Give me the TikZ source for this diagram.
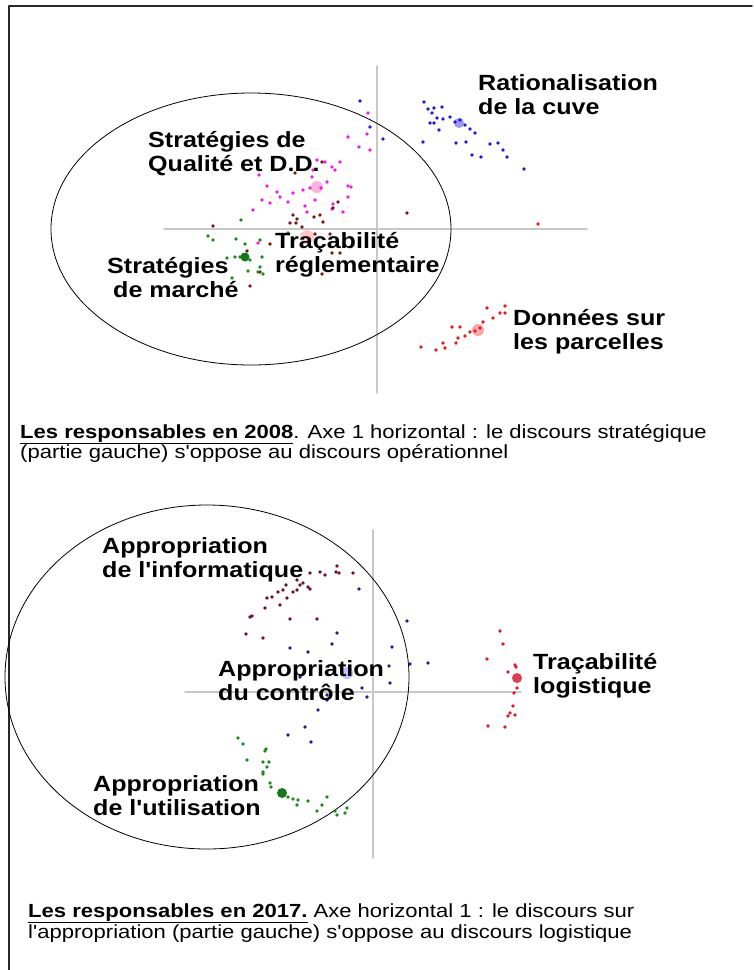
\documentclass[tikz,border=0pt]{standalone}
\usepackage{fontspec}
\setmainfont{Liberation Sans}
\newfontfamily\lblfont[FakeStretch=1.14]{Liberation Sans}
\newfontfamily\legfont[FakeStretch=1.16]{Liberation Sans}
\definecolor{axegris}{RGB}{200,200,200}
\definecolor{cadre}{RGB}{40,40,40}
\definecolor{ptbleu}{RGB}{25,25,225}
\definecolor{ptmagenta}{RGB}{240,25,240}
\definecolor{ptbrun}{RGB}{125,20,20}
\definecolor{ptvert}{RGB}{25,140,25}
\definecolor{ptrouge}{RGB}{230,25,25}
\definecolor{ptbrunb}{RGB}{110,15,35}
\definecolor{ptbleub}{RGB}{35,25,150}
\definecolor{ptrougeb}{RGB}{220,25,45}
\tikzset{
  axe/.style={draw=axegris, line width=1.6pt},
  zone/.style={draw=black, line width=0.8pt},
  lbl/.style={inner sep=0pt, anchor=base west, font=\lblfont\bfseries\fontsize{22}{24}\selectfont},
  legende/.style={inner sep=0pt, anchor=base west, font=\legfont\fontsize{19}{20}\selectfont},
}
\newcommand\nuage[2]{\foreach \p in {#2} \fill[#1] \p circle (1.9pt);}
\begin{document}
\begin{tikzpicture}[x=1pt, y=-1pt, line join=round, line cap=round]
	\useasboundingbox (0,0) rectangle (753,970);
	% cadre
	\draw[cadre, line width=1.4pt] (9,970) -- (9,6) -- (752,6);
	% --- 2008 ---
	\coordinate (N1) at (377,66);
	\coordinate (S1) at (377,393);
	\coordinate (W1) at (164,229);
	\coordinate (E1) at (587,229);
	\draw[axe] (N1)--(S1) (W1)--(E1);
	\draw[zone] (251,229) ellipse [x radius=200pt, y radius=136pt];
	\fill[blue!40] (459,123) circle (5pt);
	\fill[magenta!30] (317,187) circle (6pt);
	\fill[red!22] (307,237) circle (7pt);
	\fill[red!35] (478,330) circle (6pt);
	\nuage{ptbleu}{(360,101),(370,127),(383,139),(424,102),(428,109),(434,108),(442,107),(432,113),(437,118),(443,119),(450,117),(455,122),(460,120),(465,125),(470,129),(475,133),(430,123),(439,130),(423,142),(456,143),(466,142),(490,144),(498,143),(503,150),(507,157),(472,155),(481,157),(524,169),(434,123)}
	\nuage{ptmagenta}{(368,113),(348,137),(367,134),(359,147),(370,150),(317,160),(325,162),(332,167),(340,162),(335,170),(313,170),(259,175),(312,177),(267,186),(277,192),(280,197),(293,193),(303,190),(310,188),(321,188),(327,182),(348,186),(351,187),(262,200),(270,203),(253,210),(288,202),(305,206),(315,200),(333,204),(348,197),(343,212),(307,212),(332,209),(258,243)}
	\nuage{ptbrun}{(322,162),(295,173),(293,215),(297,219),(290,223),(296,223),(302,227),(314,217),(320,215),(323,222),(333,208),(338,202),(407,213),(213,226),(315,234),(330,234),(332,253),(340,253),(322,274),(250,286),(260,272),(247,251),(270,244)}
	\nuage{ptvert}{(241,220),(208,236),(213,240),(236,239),(245,244),(260,240),(227,258),(235,257),(250,260),(262,257),(248,271),(260,267),(263,274),(258,272),(232,278),(288,233),(240,257),(243,255)}
	\fill[ptvert!85!black] (245,257) circle (4.5pt);
	\nuage{ptrouge}{(538,224),(487,308),(505,306),(500,313),(493,318),(483,322),(480,328),(470,332),(465,336),(458,338),(452,327),(460,327),(456,343),(443,343),(445,348),(436,350),(421,347),(505,313),(475,331)}
	\node[lbl] (rat) at (478,90) {\begin{tabular}[t]{@{}l@{}}Rationalisation\\de la cuve\end{tabular}};
	\node[lbl] (qual) at (148,147) {\begin{tabular}[t]{@{}l@{}}Stratégies de\\Qualité et D.D.\end{tabular}};
	\node[lbl] (tracr) at (275,248) {\begin{tabular}[t]{@{}l@{}}Traçabilité\\réglementaire\end{tabular}};
	\node[lbl] (marche) at (107,273) {\begin{tabular}[t]{@{}l@{}}Stratégies\\\hspace{6pt}de marché\end{tabular}};
	\node[lbl] (parc) at (513,325) {\begin{tabular}[t]{@{}l@{}}Données sur\\les parcelles\end{tabular}};
	\node[legende] (leg1) at (20,438) {\underline{\textbf{Les responsables en 2008}}. Axe 1 horizontal : le discours stratégique};
	\node[legende] (leg1b) at (20,458) {(partie gauche) s'oppose au discours opérationnel};
	% --- 2017 ---
	\coordinate (N2) at (373,530);
	\coordinate (S2) at (373,858);
	\coordinate (W2) at (185,692);
	\coordinate (E2) at (521,692);
	\draw[axe] (N2)--(S2) (W2)--(E2);
	\draw[zone] (207,677) ellipse [x radius=202pt, y radius=172pt];
	\fill[blue!25] (347,673) circle (6pt);
	\nuage{ptbrunb}{(310,573),(320,572),(325,575),(337,566),(336,572),(339,573),(353,573),(297,580),(300,585),(303,583),(308,587),(310,589),(286,585),(283,590),(278,592),(297,590),(293,592),(272,597),(267,598),(287,598),(280,605),(265,608),(250,617),(252,616),(290,619),(317,619),(246,634),(263,638)}
	\nuage{ptbleub}{(359,589),(407,621),(337,633),(332,644),(392,647),(290,648),(308,652),(410,664),(428,663),(389,666),(390,683),(366,672),(362,688),(367,697),(327,695),(318,710),(300,677),(327,700),(305,727),(288,735),(311,742)}
	\nuage{ptrougeb}{(500,631),(503,644),(487,659),(515,665),(516,667),(508,672),(517,688),(514,693),(513,706),(510,713),(508,716),(515,715),(488,726),(505,727)}
	\fill[ptrougeb!85] (517,678) circle (5pt);
	\nuage{ptvert}{(238,738),(243,744),(266,749),(265,751),(247,760),(263,762),(269,762),(267,767),(263,772),(263,774),(270,783),(271,787),(288,797),(293,799),(298,800),(297,805),(308,801),(327,797),(322,805),(317,811),(335,811),(337,815),(347,808),(345,813)}
	\fill[ptvert!85!black] (282,793) circle (5pt);
	\node[lbl] (info) at (102,553) {\begin{tabular}[t]{@{}l@{}}Appropriation\\de l'informatique\end{tabular}};
	\node[lbl] (ctrl) at (218,676) {\begin{tabular}[t]{@{}l@{}}Appropriation\\du contrôle\end{tabular}};
	\node[lbl] (logis) at (533,669) {\begin{tabular}[t]{@{}l@{}}Traçabilité\\logistique\end{tabular}};
	\node[lbl] (util) at (93,791) {\begin{tabular}[t]{@{}l@{}}Appropriation\\de l'utilisation\end{tabular}};
	\node[legende] (leg2) at (28,917) {\underline{\textbf{Les responsables en 2017.}} Axe horizontal 1 : le discours sur};
	\node[legende] (leg2b) at (28,938) {l'appropriation (partie gauche) s'oppose au discours logistique};
\end{tikzpicture}
\end{document}
